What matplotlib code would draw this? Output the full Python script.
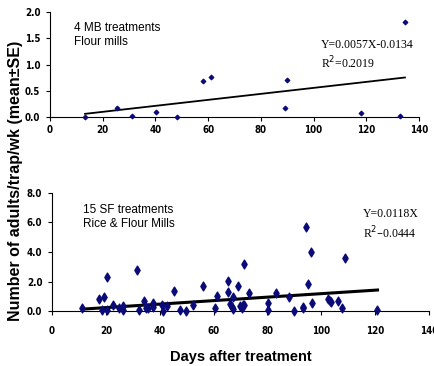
import matplotlib
matplotlib.use("Agg")
import matplotlib.pyplot as plt
import numpy as np

# Top panel: 4 MB treatments, flour mills
mb_days = [13.3, 25.3, 31.2, 40.1, 48.1, 58.2, 61.1, 89.1, 90.0, 117.9, 133.0, 134.7]
mb_adults = [0.0, 0.18, 0.02, 0.10, 0.01, 0.69, 0.77, 0.18, 0.70, 0.08, 0.02, 1.82]
mb_slope, mb_icpt = 0.0057, -0.0134

# Bottom panel: 15 SF treatments, rice & flour mills
sf_days = [11.3, 17.5, 19.3, 20.3, 18.4, 20.3, 22.5, 24.9, 26.5, 26.5, 31.4, 32.4,
           34.2, 34.8, 35.8, 37.4, 37.6, 40.7, 41.3, 42.6, 45.3, 47.5, 49.6, 52.2,
           56.2, 60.5, 61.4, 65.5, 65.5, 66.3, 66.7, 67.1, 67.3, 69.2, 69.8, 70.4,
           70.8, 71.4, 71.4, 73.3, 80.1, 80.1, 83.2, 88.1, 90.0, 93.1, 93.3, 94.2,
           95.2, 96.2, 96.4, 102.4, 103.2, 103.8, 106.3, 107.9, 109.0, 120.9]
sf_adults = [0.23, 0.84, 0.93, 2.30, 0.07, 0.07, 0.41, 0.18, 0.34, 0.07, 2.80, 0.07,
             0.70, 0.23, 0.18, 0.57, 0.30, 0.41, 0.02, 0.34, 1.37, 0.07, 0.0, 0.41,
             1.71, 0.18, 1.02, 2.07, 1.27, 0.48, 0.30, 0.93, 0.11, 1.71, 0.34, 0.18,
             0.41, 3.21, 0.41, 1.21, 0.52, 0.07, 1.21, 0.98, 0.0, 0.23, 0.30, 5.71,
             1.82, 3.98, 0.52, 0.80, 0.70, 0.59, 0.70, 0.18, 3.59, 0.07]
sf_slope = 0.0118

x_ticks = [0, 20, 40, 60, 80, 100, 120, 140]
top_yticks = [0.0, 0.5, 1.0, 1.5, 2.0]
bot_yticks = [0.0, 2.0, 4.0, 6.0, 8.0]

navy = "#0a0a78"
tickfont = dict(family="DejaVu Sans", stretch="condensed", weight="bold", size=7)

fig = plt.figure(figsize=(4.35, 3.66), dpi=100)
ax1 = fig.add_axes([0.115, 0.680, 0.848, 0.287])
ax2 = fig.add_axes([0.1195, 0.150, 0.8665, 0.323])

for ax in (ax1, ax2):
    ax.spines["top"].set_visible(False)
    ax.spines["right"].set_visible(False)
    ax.spines["left"].set_linewidth(0.8)
    ax.spines["bottom"].set_linewidth(0.8)
    ax.tick_params(direction="out", length=3, width=0.8)
    ax.tick_params(axis="y", pad=4)
    ax.set_xlim(0, 140)
    ax.set_xticks(x_ticks)
    ax.set_xticklabels([str(t) for t in x_ticks], fontdict=tickfont)
ax1.tick_params(axis="x", pad=3)
ax2.tick_params(axis="x", pad=8)

# Top panel
ax1.set_ylim(0, 2.0)
ax1.set_yticks(top_yticks)
ax1.set_yticklabels([f"{t:.1f}" for t in top_yticks], fontdict=tickfont)
ax1.scatter(mb_days, mb_adults, marker="D", s=5, color=navy, zorder=3, clip_on=False)
xl = np.array([min(mb_days), max(mb_days)])
ax1.plot(xl, mb_slope * xl + mb_icpt, color="black", lw=1.3)
ax1.text(0.064, 0.905, "4 MB treatments\nFlour mills", transform=ax1.transAxes,
         fontsize=8.5, family="Liberation Sans", va="top", ha="left", linespacing=1.25)
ax1.text(0.735, 0.74, "Y=0.0057X-0.0134\nR$^2$=0.2019", transform=ax1.transAxes,
         fontsize=8.5, family="Liberation Serif", va="top", ha="left", linespacing=1.25)

# Bottom panel
ax2.set_ylim(0, 8.0)
ax2.set_yticks(bot_yticks)
ax2.set_yticklabels([f"{t:.1f}" for t in bot_yticks], fontdict=tickfont)
ax2.scatter(sf_days, sf_adults, marker="d", s=20, color=navy, zorder=3, clip_on=False)
xl2 = np.array([min(sf_days), max(sf_days)])
ax2.plot(xl2, sf_slope * xl2, color="black", lw=2.2)
ax2.text(0.083, 0.905, "15 SF treatments\nRice & Flour Mills", transform=ax2.transAxes,
         fontsize=8.5, family="Liberation Sans", va="top", ha="left", linespacing=1.25)
ax2.text(0.825, 0.87, "Y=0.0118X\nR$^2$\u20130.0444", transform=ax2.transAxes,
         fontsize=8.5, family="Liberation Serif", va="top", ha="left", linespacing=1.3)

ax2.set_xlabel("Days after treatment", fontsize=10.5, family="Liberation Sans",
               weight="bold", labelpad=10)
fig.text(0.035, 0.505, "Number of adults/trap/wk (mean\u00b1SE)", rotation=90,
         fontsize=11.5, family="Liberation Sans", weight="bold", ha="center", va="center")

fig.savefig("out.png", dpi=100)
